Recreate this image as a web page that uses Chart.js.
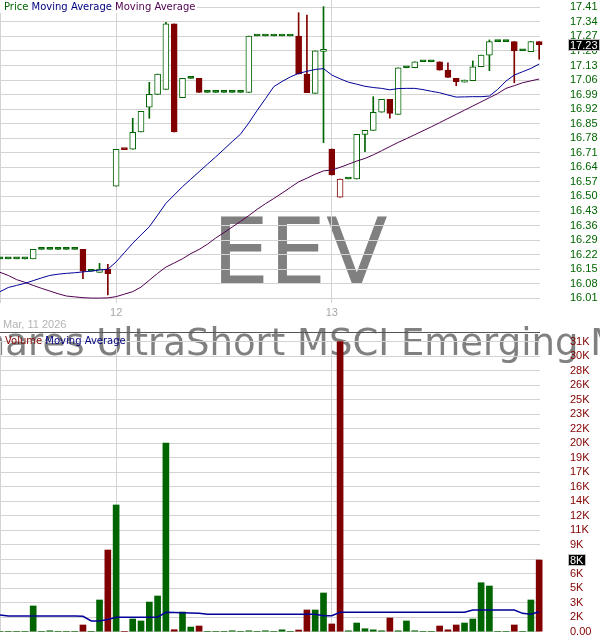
<!DOCTYPE html>
<html>
<head>
<meta charset="utf-8">
<script src="https://cdn.jsdelivr.net/npm/chart.js@4.4.1/dist/chart.umd.min.js"></script>
<style>
  html, body { margin: 0; padding: 0; background: #fff; }
  #wrap { position: relative; width: 600px; height: 640px; overflow: hidden; }
  #priceChart { position: absolute; left: 0; top: 0; }
  #volChart { position: absolute; left: 0; top: 332px; }
</style>
</head>
<body>
<div id="wrap">
  <canvas id="priceChart" width="600" height="332"></canvas>
  <canvas id="volChart" width="600" height="308"></canvas>
</div>
<script>
const symbol = "EEV";
const fundName = "ProShares UltraShort MSCI Emerging Markets";
const dateLabel = "Mar, 11 2026";

// one entry per bar, left to right
const opens = [
  16.20, 16.20, 16.20, 16.20, 16.20, 16.245, 16.245, 16.245, 16.245, 16.245,
  16.245, 16.14, 16.135, 16.15, 16.55, 16.725, 16.727, 16.81, 16.929, 16.991,
  17.015, 17.33, 16.975, 17.068, 17.068, 17.001, 17.001, 17.001, 17.001, 17.001,
  17.001, 17.272, 17.272, 17.272, 17.272, 17.272, 17.272, 17.089, 16.996, 17.198,
  16.728, 16.496, 16.584, 16.584, 16.799, 16.818, 16.905, 16.967, 16.895, 17.119,
  17.119, 17.148, 17.148, 17.148, 17.108, 17.068, 17.05, 17.057, 17.124, 17.18,
  17.245, 17.245, 17.245, 17.201, 17.197, 17.245
];
const highs = [
  16.20, 16.20, 16.20, 16.20, 16.245, 16.245, 16.245, 16.245, 16.245, 16.245,
  16.245, 16.14, 16.178, 16.174, 16.727, 16.725, 16.876, 16.91, 17.049, 17.089,
  17.338, 17.33, 17.068, 17.068, 17.068, 17.001, 17.001, 17.001, 17.001, 17.001,
  17.272, 17.272, 17.272, 17.272, 17.272, 17.272, 17.384, 17.373, 17.20, 17.413,
  16.728, 16.584, 16.584, 16.799, 16.818, 16.98, 16.967, 16.967, 17.119, 17.119,
  17.148, 17.148, 17.148, 17.148, 17.143, 17.068, 17.06, 17.152, 17.18, 17.253,
  17.245, 17.245, 17.245, 17.201, 17.245, 17.245
];
const lows = [
  16.20, 16.20, 16.20, 16.20, 16.20, 16.245, 16.245, 16.245, 16.245, 16.245,
  16.105, 16.14, 16.135, 16.026, 16.55, 16.725, 16.727, 16.81, 16.876, 16.991,
  17.015, 16.81, 16.975, 17.068, 17.001, 17.001, 17.001, 17.001, 17.001, 17.001,
  17.001, 17.272, 17.272, 17.272, 17.272, 17.272, 17.089, 16.999, 16.996, 16.759,
  16.603, 16.496, 16.584, 16.584, 16.715, 16.818, 16.905, 16.876, 16.895, 17.119,
  17.119, 17.148, 17.148, 17.108, 17.073, 17.033, 17.05, 17.057, 17.124, 17.105,
  17.245, 17.245, 17.047, 17.201, 17.197, 17.16
];
const closes = [
  16.20, 16.20, 16.20, 16.20, 16.245, 16.245, 16.245, 16.245, 16.245, 16.245,
  16.14, 16.14, 16.15, 16.128, 16.727, 16.725, 16.809, 16.91, 16.991, 17.089,
  17.33, 16.81, 17.068, 17.068, 17.001, 17.001, 17.001, 17.001, 17.001, 17.001,
  17.272, 17.272, 17.272, 17.272, 17.272, 17.272, 17.089, 16.999, 17.20, 17.208,
  16.603, 16.584, 16.584, 16.799, 16.818, 16.905, 16.967, 16.90, 17.119, 17.119,
  17.148, 17.148, 17.148, 17.108, 17.073, 17.052, 17.06, 17.124, 17.18, 17.245,
  17.245, 17.245, 17.201, 17.201, 17.245, 17.23
];
const fastMA = [
  16.042, 16.062, 16.072, 16.082, 16.095, 16.108, 16.120, 16.126, 16.130, 16.133,
  16.137, 16.141, 16.146, 16.150, 16.185, 16.230, 16.275, 16.315, 16.354, 16.410,
  16.467, 16.507, 16.547, 16.583, 16.619, 16.655, 16.690, 16.727, 16.764, 16.800,
  16.854, 16.914, 16.970, 17.028, 17.053, 17.075, 17.092, 17.102, 17.111, 17.115,
  17.084, 17.066, 17.050, 17.040, 17.030, 17.024, 17.020, 17.013, 17.019, 17.020,
  17.020, 17.014, 17.006, 16.999, 16.988, 16.978, 16.979, 16.980, 16.980, 16.983,
  17.015, 17.055, 17.084, 17.100, 17.116, 17.137
];
const slowMA = [
  16.135, 16.120, 16.100, 16.087, 16.072, 16.058, 16.045, 16.032, 16.021, 16.017,
  16.013, 16.011, 16.011, 16.012, 16.018, 16.030, 16.042, 16.064, 16.097, 16.130,
  16.160, 16.180, 16.200, 16.225, 16.245, 16.270, 16.300, 16.326, 16.353, 16.380,
  16.408, 16.438, 16.465, 16.490, 16.516, 16.543, 16.570, 16.588, 16.607, 16.623,
  16.627, 16.640, 16.655, 16.670, 16.683, 16.700, 16.720, 16.740, 16.760, 16.778,
  16.797, 16.816, 16.835, 16.855, 16.875, 16.895, 16.915, 16.935, 16.955, 16.975,
  16.995, 17.020, 17.033, 17.047, 17.056, 17.065
];
const volumes = [
  0, 0, 0, 0, 2760, 0, 100, 0, 0, 0,
  720, 0, 3400, 8760, 13590, 0, 1360, 1150, 3180, 3830,
  20240, 215, 2110, 500, 610, 0, 0, 0, 100, 0,
  100, 0, 100, 0, 200, 0, 180, 2330, 2330, 4150,
  830, 31100, 100, 930, 320, 200, 100, 1470, 100, 1150,
  100, 0, 0, 610, 200, 720, 930, 1360, 5250, 4900,
  0, 0, 720, 0, 3400, 7690
];
const volumeMA = [
  1790, 1680, 1680, 1680, 1680, 1680, 1680, 1680, 1680, 1680,
  1650, 1150, 1150, 1300, 1540, 1540, 1540, 1540, 1540, 1560,
  2080, 2060, 2030, 2000, 1970, 1870, 1870, 1870, 1870, 1870,
  1870, 1870, 1870, 1870, 1870, 1870, 1870, 1870, 1870, 1720,
  1720, 2080, 2080, 2080, 2080, 2080, 2080, 2080, 2080, 2080,
  2080, 2080, 2080, 2080, 2080, 2080, 2080, 2330, 2330, 2330,
  2330, 2330, 2330, 1970, 1870, 2140
];

const priceTicks = [17.41, 17.34, 17.27, 17.20, 17.13, 17.06, 16.99, 16.92, 16.85, 16.78, 16.71,
  16.64, 16.57, 16.50, 16.43, 16.36, 16.29, 16.22, 16.15, 16.08, 16.01];
const volumeTicks = [0, 1555, 3110, 4665, 6220, 7775, 9330, 10885, 12440, 13995, 15550,
  17105, 18660, 20215, 21770, 23325, 24880, 26435, 27990, 29545, 31100];
const dayTicks = [0, 14, 40];
const dayLabels = ["", "12", "13"];

const GREEN = "#006400";
const RED = "#800000";
const GRID = "#d3d3d3";

Chart.defaults.font.family = '"Liberation Sans", Arial, sans-serif';

const idx = closes.map((c, i) => i);
// green when the close holds or beats the previous close, hollow when close > open
const candleColors = idx.map(i => (i > 0 && closes[i] < closes[i - 1]) ? RED : GREEN);
const bodyFill = idx.map(i => closes[i] <= opens[i] ? candleColors[i] : "#ffffff");
const volFmt = v => v === 0 ? "0.00" : Math.round(v / 1000) + "K";

const watermark = {
  id: "watermark",
  beforeDraw(chart, args, opts) {
    const ctx = chart.ctx;
    ctx.save();
    ctx.fillStyle = "#808080";
    ctx.textBaseline = "alphabetic";
    if (opts.symbol) {
      ctx.textAlign = "center";
      ctx.font = '90px "DejaVu Sans"';
      ctx.fillText(symbol, 300, 283);
    }
    // the name runs off both edges; "MSCI" starts near x = 297
    ctx.textAlign = "left";
    ctx.font = '37px "DejaVu Sans"';
    const lead = ctx.measureText("ProShares UltraShort ").width;
    ctx.fillText(fundName, 297 - lead, opts.nameY);
    ctx.restore();
  }
};

function drawTags(ctx, parts, x, y) {
  ctx.font = '10px "DejaVu Sans"';
  ctx.textAlign = "left";
  ctx.textBaseline = "alphabetic";
  parts.forEach(([t, c]) => {
    ctx.fillStyle = c;
    ctx.fillText(t, x, y);
    x += ctx.measureText(t).width;
  });
}

function drawValueBox(ctx, text, y) {
  ctx.font = '11px "Liberation Sans"';
  const w = Math.ceil(ctx.measureText(text).width) + 4;
  const top = Math.round(y) - 6;
  ctx.fillStyle = "#000";
  ctx.fillRect(568, top, w, 12);
  ctx.strokeStyle = "#c0c0c0";
  ctx.lineWidth = 1;
  ctx.strokeRect(568.5, top + 0.5, w - 1, 11);
  ctx.fillStyle = "#fff";
  ctx.textAlign = "left";
  ctx.textBaseline = "middle";
  ctx.fillText(text, 570, top + 6.5);
}

const priceOverlay = {
  id: "priceOverlay",
  afterDraw(chart) {
    const ctx = chart.ctx;
    ctx.save();
    ctx.fillStyle = "#fff";
    ctx.fillRect(0, 0, 197, 13);
    drawTags(ctx, [["Price ", GREEN], ["Moving Average ", "#000080"], ["Moving Average", "#500050"]], 4, 10);
    ctx.font = '11px "Liberation Sans"';
    ctx.fillStyle = "#b4b4b4";
    ctx.fillText(dateLabel, 3, 328);
    const last = closes[closes.length - 1];
    drawValueBox(ctx, last.toFixed(2), chart.scales.y.getPixelForValue(last));
    ctx.restore();
  }
};

const volOverlay = {
  id: "volOverlay",
  afterDraw(chart) {
    const ctx = chart.ctx;
    ctx.save();
    ctx.strokeStyle = "#555";
    ctx.lineWidth = 1;
    ctx.beginPath();
    ctx.moveTo(0, 0.5);
    ctx.lineTo(540, 0.5);
    ctx.stroke();
    drawTags(ctx, [["Volume ", RED], ["Moving Average", "#000080"]], 5, 12);
    const last = volumes[volumes.length - 1];
    drawValueBox(ctx, volFmt(last), chart.scales.y.getPixelForValue(last));
    ctx.restore();
  }
};

function xScale(showLabels, height) {
  return {
    type: "linear", min: 0, max: 65.1, offset: false,
    afterBuildTicks: s => { s.ticks = dayTicks.map(v => ({ value: v })); },
    afterFit: s => { s.height = height; s.paddingLeft = 0; s.paddingRight = 0; },
    ticks: {
      display: showLabels, autoSkip: false, maxRotation: 0, padding: 3,
      color: "#a8a8a8", font: { size: 11 },
      callback: v => dayLabels[dayTicks.indexOf(v)] ?? ""
    },
    grid: { color: GRID, drawTicks: false, offset: false },
    border: { display: false }
  };
}

function yScale(min, max, ticks, fmt, color) {
  return {
    position: "right", min: min, max: max, beginAtZero: false,
    afterBuildTicks: s => { s.ticks = ticks.map(v => ({ value: v })); },
    afterFit: s => { s.width = 60; s.paddingTop = 0; s.paddingBottom = 0; },
    ticks: { autoSkip: false, padding: 30, color: color, font: { size: 11 }, callback: fmt },
    grid: { color: GRID, drawTicks: false },
    border: { display: false }
  };
}

new Chart(document.getElementById("priceChart"), {
  type: "bar",
  data: {
    datasets: [
      { type: "line", data: idx.map(i => ({ x: i, y: fastMA[i] })), borderColor: "#000099",
        borderWidth: 1, pointRadius: 0, tension: 0, order: 0 },
      { type: "line", data: idx.map(i => ({ x: i, y: slowMA[i] })), borderColor: "#500050",
        borderWidth: 1, pointRadius: 0, tension: 0, order: 0 },
      { data: idx.map(i => ({ x: i, y: [lows[i], highs[i]] })), backgroundColor: candleColors,
        barThickness: 1, grouped: false, clip: false, order: 2 },
      { data: idx.map(i => ({ x: i, y: [opens[i], closes[i]] })), backgroundColor: bodyFill,
        borderColor: candleColors, borderWidth: 1, borderSkipped: false, minBarLength: 2,
        barThickness: 6, grouped: false, clip: false, order: 1 }
    ]
  },
  options: {
    responsive: false,
    animation: false,
    layout: { padding: 0 },
    plugins: { legend: { display: false }, tooltip: { enabled: false }, watermark: { symbol: true, nameY: 355 } },
    scales: {
      x: xScale(true, 29),
      y: yScale(15.9874, 17.4451, priceTicks, v => v.toFixed(2), GREEN)
    }
  },
  plugins: [watermark, priceOverlay]
});

new Chart(document.getElementById("volChart"), {
  type: "bar",
  data: {
    datasets: [
      { type: "line", data: idx.map(i => ({ x: i, y: volumeMA[i] })), borderColor: "#000099",
        borderWidth: 1.5, pointRadius: 0, tension: 0, order: 0 },
      { data: idx.map(i => ({ x: i, y: volumes[i] })), backgroundColor: candleColors,
        barThickness: 6, grouped: false, clip: false, order: 1 }
    ]
  },
  options: {
    responsive: false,
    animation: false,
    layout: { padding: { top: 9.7, bottom: 8.3, left: 0, right: 0 } },
    plugins: { legend: { display: false }, tooltip: { enabled: false }, watermark: { symbol: false, nameY: 23 } },
    scales: {
      x: xScale(false, 0),
      y: yScale(0, 31100, volumeTicks, volFmt, RED)
    }
  },
  plugins: [watermark, volOverlay]
});
</script>
</body>
</html>
